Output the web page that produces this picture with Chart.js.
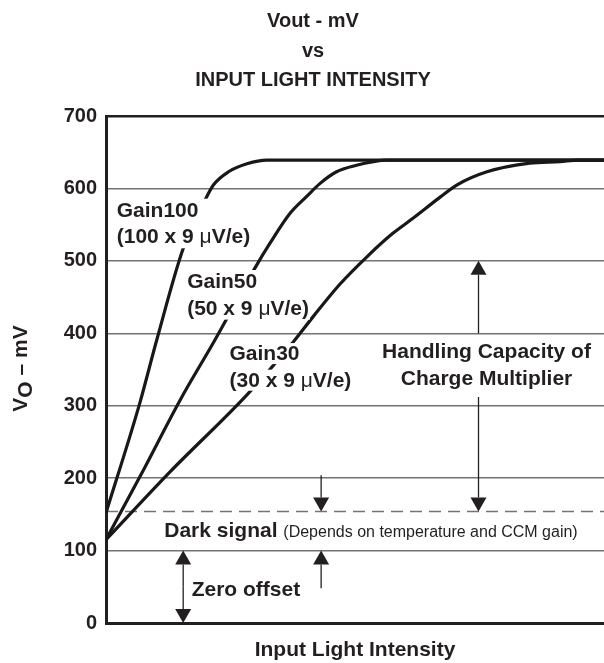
<!DOCTYPE html>
<html><head><meta charset="utf-8">
<script src="https://cdn.jsdelivr.net/npm/chart.js@4/dist/chart.umd.min.js"></script>
<style>html,body{margin:0;padding:0;background:#fff}#wrap{width:604px;height:663px;position:relative}</style>
</head><body><div id="wrap"><canvas id="c"></canvas></div>
<script>
// ---- data ----
const titleLines = ['Vout - mV', 'vs', 'INPUT LIGHT INTENSITY'];
const xAxisTitle = 'Input Light Intensity';
const yTicks = [0, 100, 200, 300, 400, 500, 600, 700];
const gain100X = [0, 6.8, 10.2, 15.5, 19.9, 21.6, 24.6, 28.3, 32.3, 100];
const gain100Y = [152, 304, 391, 517, 584, 605, 623, 634, 639, 639];
const gain50X = [0, 7.5, 14.9, 21.9, 29.9, 32.9, 37.0, 40.3, 43.0, 46.3, 50.3, 53.7, 56.4, 100];
const gain50Y = [115, 211, 308, 391, 490, 524, 566, 589, 607, 623, 632, 637, 639, 639];
const gain30X = [0, 12.9, 28.3, 37.6, 41.6, 47.0, 52.6, 57.6, 61.5, 67.1, 70.5, 76.5, 85.1, 91.2, 94.8, 100];
const gain30Y = [115, 209, 315, 388, 423, 468, 507, 538, 558, 588, 605, 623, 635, 637, 639, 639];
const darkLevelX = [0, 100];
const darkLevelY = [154, 154];

// ---- styles ----
const FAM = '"Liberation Sans", Arial, Helvetica, sans-serif';
const INK = '#231f20';
const GRID = '#737373';
const B21 = 'bold 21px ' + FAM;
const R21 = '21px ' + FAM;
const R16 = '16px ' + FAM;

const pts = (xs, ys) => xs.map((v, i) => ({x: v, y: ys[i]}));

// annotation layout (value coordinates)
const arrows = [
  {x: 15.5, from: 50, to: 100}, {x: 15.5, from: 50, to: 0},      // zero offset (double)
  {x: 43.2, from: 204, to: 154}, {x: 43.2, from: 48, to: 100},    // dark signal
  {x: 74.8, from: 400, to: 500}, {x: 74.8, from: 312, to: 154}    // handling capacity
];
// bg: 'block' = one white box behind all lines, 'lines' = a box per line
const labels = [
  {x: 2.15, y: 561, bg: 'block', lines: [[['Gain100', B21]], [['(100 x 9 ', B21], ['\u03bc', R21], ['V/e)', B21]]]},
  {x: 16.3, y: 462.5, bg: 'block', lines: [[['Gain50', B21]], [['(50 x 9 ', B21], ['\u03bc', R21], ['V/e)', B21]]]},
  {x: 24.8, y: 363, bg: 'lines', lines: [[['Gain30', B21]], [['(30 x 9 ', B21], ['\u03bc', R21], ['V/e)', B21]]]},
  {x: 76.4, y: 365.4, center: true, lines: [[['Handling Capacity of', B21]], [['Charge Multiplier', B21]]]},
  {x: 11.7, y: 118.7, lines: [[['Dark signal ', B21], ['(Depends on temperature and CCM gain)', R16]]]},
  {x: 17.2, y: 37.3, lines: [[['Zero offset', B21]]]}
];
const LINE_GAP = 26.6;

function runsWidth(ctx, runs) {
  let w = 0;
  runs.forEach(r => { ctx.font = r[1]; w += ctx.measureText(r[0]).width; });
  return w;
}
function drawRuns(ctx, runs, x, y) {
  let cx = x;
  runs.forEach(r => { ctx.font = r[1]; ctx.fillText(r[0], cx, y + (r[2] || 0)); cx += ctx.measureText(r[0]).width; });
}

const annot = {
  id: 'annot',
  afterDatasetsDraw(chart) {
    const {ctx, scales: {x, y}} = chart;
    ctx.save();
    // arrows
    ctx.strokeStyle = INK; ctx.fillStyle = INK; ctx.lineWidth = 1.3;
    arrows.forEach(a => {
      const px = x.getPixelForValue(a.x);
      const p0 = y.getPixelForValue(a.from), p1 = y.getPixelForValue(a.to);
      const dir = p1 > p0 ? 1 : -1, hh = 14, hw = 16;
      ctx.beginPath(); ctx.moveTo(px, p0); ctx.lineTo(px, p1 - dir * hh); ctx.stroke();
      ctx.beginPath(); ctx.moveTo(px, p1); ctx.lineTo(px - hw / 2, p1 - dir * hh); ctx.lineTo(px + hw / 2, p1 - dir * hh); ctx.closePath(); ctx.fill();
    });
    // labels
    ctx.textBaseline = 'alphabetic'; ctx.textAlign = 'left';
    labels.forEach(l => {
      const px = x.getPixelForValue(l.x), py = y.getPixelForValue(l.y);
      const widths = l.lines.map(r => runsWidth(ctx, r));
      if (l.bg === 'block') {
        const w = Math.max(...widths);
        ctx.fillStyle = '#fff';
        ctx.fillRect(px - 2, py - 18, w + 3, (l.lines.length - 1) * LINE_GAP + 23);
      }
      l.lines.forEach((runs, i) => {
        const w = widths[i];
        const lx = l.center ? px - w / 2 : px;
        const by = py + i * LINE_GAP;
        if (l.bg === 'lines') { ctx.fillStyle = '#fff'; ctx.fillRect(lx - 2, by - 17, w + 3, 21); }
        ctx.fillStyle = INK;
        drawRuns(ctx, runs, lx, by);
      });
    });
    ctx.restore();
  },
  afterDraw(chart) {
    const {ctx, chartArea} = chart;
    ctx.save();
    ctx.translate(22, (chartArea.top + chartArea.bottom) / 2 - 1);
    ctx.rotate(-Math.PI / 2);
    ctx.fillStyle = INK; ctx.textBaseline = 'alphabetic'; ctx.textAlign = 'left';
    const runs = [['V', B21], ['O', B21, 4.5], [' \u2013 mV', B21]];
    const w = runsWidth(ctx, runs);
    drawRuns(ctx, runs, -w / 2, 5);
    ctx.restore();
  }
};

const curve = (label, data) => ({
  label, data, borderColor: '#1a1718', borderWidth: 3.2, pointRadius: 0,
  cubicInterpolationMode: 'monotone', fill: false
});

new Chart(document.getElementById('c'), {
  type: 'line',
  data: {
    datasets: [
      curve('Gain100', pts(gain100X, gain100Y)),
      curve('Gain50', pts(gain50X, gain50Y)),
      curve('Gain30', pts(gain30X, gain30Y)),
      {label: 'Dark signal', data: pts(darkLevelX, darkLevelY), borderColor: GRID, borderWidth: 1.5,
       borderDash: [12, 7], pointRadius: 0, fill: false}
    ]
  },
  options: {
    responsive: true, maintainAspectRatio: false, animation: false,
    devicePixelRatio: 1,
    layout: {padding: {left: 22, right: 0, top: 0, bottom: 0}},
    plugins: {
      legend: {display: false}, tooltip: {enabled: false},
      title: {display: true, text: titleLines, color: INK,
        font: {family: FAM, size: 20, weight: 'bold', lineHeight: '29.5px'},
        padding: {top: 6.75, bottom: 20.75}}
    },
    scales: {
      x: {type: 'linear', min: 0, max: 100,
        ticks: {display: false},
        grid: {display: true, color: 'rgba(0,0,0,0)', drawTicks: false},
        border: {display: true, color: INK, width: 3},
        title: {display: true, text: xAxisTitle, color: INK, padding: {top: 0, bottom: 0},
          font: {family: FAM, size: 21, weight: 'bold', lineHeight: 1.2}},
        afterFit: s => { s.height = 40; }
      },
      y: {type: 'linear', min: 0, max: 700,
        afterBuildTicks: s => { s.ticks = yTicks.map(v => ({value: v})); },
        ticks: {color: INK, padding: 9, font: {family: FAM, size: 20, weight: 'bold'}},
        grid: {drawTicks: false,
          color: c => c.tick && c.tick.value === 700 ? INK : (c.tick && c.tick.value === 0 ? 'rgba(0,0,0,0)' : GRID),
          lineWidth: c => c.tick && c.tick.value === 700 ? 2.5 : 1.5},
        border: {display: true, color: INK, width: 3},
        afterFit: s => { s.width = 84; }
      }
    }
  },
  plugins: [annot]
});
</script>
</body></html>
